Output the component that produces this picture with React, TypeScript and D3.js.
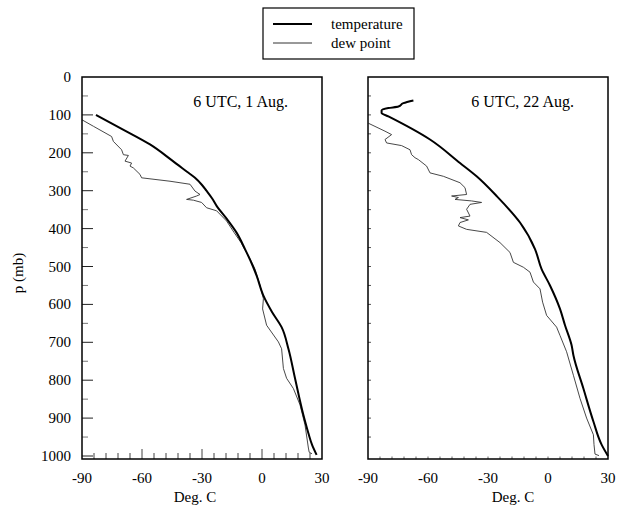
import React from "react";
import * as d3 from "d3";

// [pressure (mb), temperature (deg C)]
const aug1Temperature: [number, number][] = [
  [100, -83], [140, -69], [178, -56], [220, -45], [250, -37.5], [266, -33.5], [285, -30],
  [300, -27.8], [320, -25], [340, -22.7], [375, -17.5], [410, -12.8], [454, -8.5], [500, -4.5],
  [524, -2.7], [577, 0.7], [620, 5], [660, 9.8], [717, 13.2], [795, 16.5], [892, 20.7],
  [940, 23.2], [970, 25], [997, 27.3],
];
const aug1DewPoint: [number, number][] = [
  [113, -90], [130, -84.3], [157, -75.2], [170, -74.3], [192, -70.2], [205, -69.3], [207, -66.8],
  [222, -68.5], [227, -65.2], [235, -66], [240, -64.3], [257, -61], [266, -60.2], [275, -46],
  [283, -36], [301, -33.5], [310, -31], [314, -32.7], [323, -37.7], [325, -34.3], [331, -30.2],
  [345, -27.7], [353, -22.7], [380, -17.7], [410, -14], [437, -10.5], [480, -6], [507, -3.5],
  [550, -1], [585, 0.7], [612, 0.3], [655, 2.3], [699, 8.2], [717, 9.8], [769, 10.7],
  [795, 12.3], [822, 15.7], [865, 19], [918, 21.5], [979, 23.2], [990, 23.6], [994, 25],
];
const aug22Temperature: [number, number][] = [
  [62, -67.3], [69, -72.3], [78, -74.8], [82, -79.8], [88, -83.2], [95, -83.2], [104, -79.8],
  [165, -59], [227, -44], [262, -35.7], [314, -25.7], [384, -14], [454, -6.5], [507, -3.2],
  [550, 1], [612, 6], [655, 8.5], [708, 11.8], [734, 12.7], [822, 17.7], [909, 22.7],
  [970, 26.8], [1000, 30],
];
const aug22DewPoint: [number, number][] = [
  [122, -89.8], [143, -81.5], [152, -78.2], [165, -81.5], [174, -80.7], [181, -73.2],
  [192, -69], [205, -68.2], [213, -66.5], [218, -64.8], [235, -60.7], [253, -59], [262, -52.3],
  [279, -44], [292, -41.5], [310, -40.7], [314, -48.2], [318, -44.8], [323, -46.5], [327, -38.2],
  [331, -33.2], [336, -39], [349, -40.7], [367, -39], [371, -44], [377, -39.8], [384, -44],
  [393, -44.8], [402, -40.7], [410, -30.7], [437, -24], [463, -19], [489, -17.3], [502, -12.3],
  [515, -9], [541, -7.3], [559, -4], [594, -2.7], [629, -0.7], [660, 4.3], [682, 6], [725, 9.3],
  [787, 12.7], [848, 16], [900, 19.3], [944, 22.7], [970, 23], [995, 23.5], [999, 25.5],
];

const pressureTicks = [0, 100, 200, 300, 400, 500, 600, 700, 800, 900, 1000];
const tempTicks = [-90, -60, -30, 0, 30];
const panelTitles = ["6 UTC, 1 Aug.", "6 UTC, 22 Aug."];
const seriesNames = ["temperature", "dew point"];

const FONT = "'Liberation Serif', 'Times New Roman', serif";

const yScale = d3.scaleLinear().domain([0, 1000]).range([77, 456]);
const FRAME_BOTTOM = 459;

function Panel({ x0, title, temp, dew, full, labelX }: {
  x0: number; title: string; temp: [number, number][]; dew: [number, number][]; full: boolean; labelX: number;
}) {
  const xScale = d3.scaleLinear().domain([-90, 30]).range([x0, x0 + 240]);
  const dewLine = d3.line<[number, number]>().x((d) => xScale(d[1])).y((d) => yScale(d[0]));
  const tempLine = d3.line<[number, number]>().x((d) => xScale(d[1])).y((d) => yScale(d[0])).curve(d3.curveMonotoneY);
  const minorX = d3.range(-84, 30, 6);
  const yMinor = d3.range(50, 1000, 50);
  return (
    <g>
      {yMinor.map((p) => {
        const major = p % 100 === 0;
        const len = full ? (major ? 11 : 6) : 3;
        return (
          <line key={"y" + p} x1={x0} x2={x0 + len} y1={yScale(p)} y2={yScale(p)}
            stroke={full ? (major ? "#222" : "#777") : "#555"} strokeWidth={1} />
        );
      })}
      {full && (
        <line x1={x0} x2={x0 + 11} y1={yScale(1000)} y2={yScale(1000)} stroke="#222" strokeWidth={1} />
      )}
      {minorX.map((t) => {
        const major = t % 30 === 0;
        const len = full ? (major ? 10 : 6) : 2.5;
        return (
          <line key={"x" + t} x1={xScale(t)} x2={xScale(t)} y1={FRAME_BOTTOM} y2={FRAME_BOTTOM - len}
            stroke={full ? "#444" : "#666"} strokeWidth={1} />
        );
      })}
      <path d={dewLine(dew) || ""} fill="none" stroke="#333" strokeWidth={0.9} />
      <path d={tempLine(temp) || ""} fill="none" stroke="#000" strokeWidth={2} />
      <rect x={x0} y={77} width={240} height={FRAME_BOTTOM - 77} fill="none" stroke="#000" strokeWidth={1.5} />
      <text x={x0 + 206} y={107} textAnchor="end" fontFamily={FONT} fontSize={16}>{title}</text>
      {tempTicks.map((t) => (
        <text key={"tl" + t} x={xScale(t)} y={483} textAnchor="middle" fontFamily={FONT} fontSize={15}>{t}</text>
      ))}
      <text x={labelX} y={502} textAnchor="middle" fontFamily={FONT} fontSize={15}>Deg. C</text>
    </g>
  );
}

export default function App() {
  return (
    <svg width={617} height={509} style={{ position: "absolute", left: 0, top: 0, background: "#fff" }}>
      <rect x={0} y={0} width={617} height={509} fill="#fff" />
      <rect x={263} y={8} width={151} height={51} fill="none" stroke="#000" strokeWidth={1.2} />
      <line x1={273} x2={312} y1={24} y2={24} stroke="#000" strokeWidth={2} />
      <line x1={273} x2={312} y1={43} y2={43} stroke="#333" strokeWidth={1} />
      <text x={331} y={29} fontFamily={FONT} fontSize={15}>{seriesNames[0]}</text>
      <text x={331} y={48} fontFamily={FONT} fontSize={15}>{seriesNames[1]}</text>
      {pressureTicks.map((p) => (
        <text key={"p" + p} x={71} y={yScale(p) + 5} textAnchor="end" fontFamily={FONT} fontSize={15}>{p}</text>
      ))}
      <text transform="translate(23,273) rotate(-90)" textAnchor="middle" fontFamily={FONT} fontSize={15}>p (mb)</text>
      <Panel x0={82} title={panelTitles[0]} temp={aug1Temperature} dew={aug1DewPoint} full={true} labelX={195} />
      <Panel x0={368} title={panelTitles[1]} temp={aug22Temperature} dew={aug22DewPoint} full={false} labelX={513} />
    </svg>
  );
}
